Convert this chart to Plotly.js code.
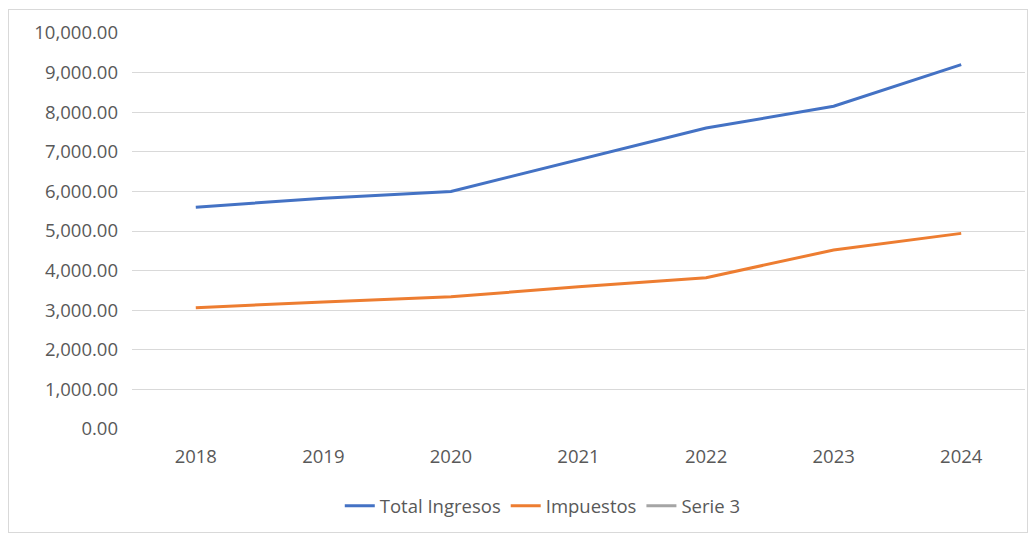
<!DOCTYPE html>
<html>
<head>
<meta charset="utf-8">
<script src="https://cdn.plot.ly/plotly-3.0.1.min.js"></script>
<style>
html,body{margin:0;padding:0;background:#fff;}
#chart{position:absolute;left:0;top:0;width:1034px;height:535px;}
#frame{position:absolute;left:8px;top:9px;width:1020px;height:524px;border:1px solid #d9d9d9;box-sizing:border-box;pointer-events:none;}
</style>
</head>
<body>
<div id="chart"></div>
<div id="frame"></div>
<script>
const years = ['2018','2019','2020','2021','2022','2023','2024'];
const totalIngresos = [5600, 5830, 6000, 6800, 7600, 8150, 9200];
const impuestos = [3060, 3210, 3340, 3590, 3820, 4520, 4940];
const serie3 = [null, null, null, null, null, null, null];
const yTicks = [0,1000,2000,3000,4000,5000,6000,7000,8000,9000,10000];

const font = {family: 'Open Sans, Liberation Sans, sans-serif', size: 18.5, color: '#595959'};

const traces = [
  {x: years, y: totalIngresos, name: 'Total Ingresos', type: 'scatter', mode: 'lines',
   line: {color: '#4472C4', width: 3}},
  {x: years, y: impuestos, name: 'Impuestos', type: 'scatter', mode: 'lines',
   line: {color: '#ED7D31', width: 3}},
  {x: years, y: serie3, name: 'Serie 3', type: 'scatter', mode: 'lines',
   line: {color: '#A5A5A5', width: 3}, showlegend: true}
];

const layout = {
  width: 1034, height: 535,
  margin: {l: 132, r: 9, t: 33, b: 106},
  paper_bgcolor: '#fff', plot_bgcolor: '#fff',
  font: font,
  showlegend: true,
  xaxis: {type: 'category', range: [-0.5, 6.5], showgrid: false, zeroline: false, showline: false,
    ticks: '', ticklabelstandoff: 14, tickfont: font, fixedrange: true},
  yaxis: {range: [0, 10000], tickvals: yTicks, tickformat: ',.2f',
    showgrid: true, gridcolor: '#d9d9d9', gridwidth: 1, zeroline: false, showline: false,
    ticks: '', ticklabelstandoff: 13, tickfont: font, fixedrange: true},
  legend: {orientation: 'h', x: 0.46, xanchor: 'center', y: -0.195, yanchor: 'middle',
    font: font, bgcolor: 'rgba(0,0,0,0)'}
};

Plotly.newPlot('chart', traces, layout, {displayModeBar: false, staticPlot: true});
</script>
</body>
</html>
